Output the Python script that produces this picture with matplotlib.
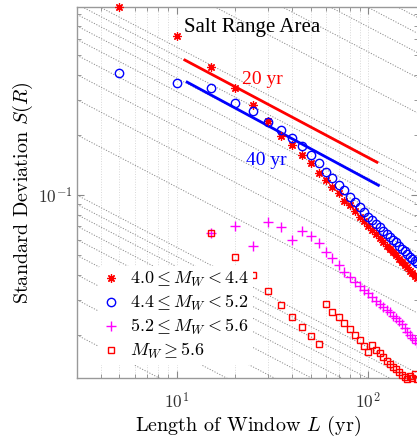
import numpy as np
import matplotlib
matplotlib.use("Agg")
import matplotlib.pyplot as plt
from matplotlib.ticker import FixedLocator, FixedFormatter, LogLocator, NullFormatter

plt.rcParams['mathtext.fontset'] = 'cm'
plt.rcParams['axes.formatter.use_mathtext'] = True

# ---- data ----
L_a = [5, 10, 15, 20, 25, 30, 35, 40, 45, 50, 55, 60, 65, 70, 75, 80, 85, 90,
       95, 100, 105, 110, 115, 120, 125, 130, 135, 140, 145, 150, 155, 160, 165, 170, 175, 180]
S_m40 = [0.87, 0.624, 0.437, 0.343, 0.282, 0.234, 0.197, 0.178, 0.158, 0.145, 0.129, 0.119,
         0.110, 0.102, 0.094, 0.089, 0.083, 0.078, 0.074, 0.070, 0.067, 0.064, 0.061, 0.058,
         0.056, 0.054, 0.052, 0.050, 0.048, 0.0465, 0.045, 0.0435, 0.042, 0.041, 0.0395, 0.0385]
S_m44 = [0.407, 0.363, 0.343, 0.288, 0.263, 0.232, 0.211, 0.193, 0.175, 0.158, 0.145, 0.130,
         0.122, 0.112, 0.106, 0.098, 0.092, 0.087, 0.082, 0.078, 0.075, 0.072, 0.069, 0.066,
         0.064, 0.062, 0.060, 0.058, 0.056, 0.054, 0.0525, 0.051, 0.049, 0.048, 0.047, 0.0457]
L_b = [15, 20, 25, 30, 35, 40, 45, 50, 55, 60, 65, 70, 75, 80, 85, 90,
       95, 100, 105, 110, 115, 120, 125, 130, 135, 140, 145, 150, 155, 160, 165, 170, 175, 180]
S_m52 = [0.065, 0.070, 0.056, 0.073, 0.069, 0.060, 0.066, 0.0624, 0.0575, 0.052, 0.0484, 0.0447,
         0.0412, 0.0389, 0.037, 0.035, 0.0335, 0.0324, 0.031, 0.0295, 0.0285, 0.0275, 0.0268,
         0.026, 0.025, 0.0243, 0.0235, 0.0226, 0.0217, 0.0208, 0.0200, 0.0194, 0.0188, 0.0182]
S_m56 = [0.065, 0.049, 0.0398, 0.0331, 0.0282, 0.0245, 0.0219, 0.0197, 0.018, 0.0285, 0.026,
         0.0245, 0.0229, 0.0214, 0.020, 0.0188, 0.0176, 0.0164, 0.0178, 0.0169, 0.0162, 0.0155,
         0.0149, 0.0144, 0.0139, 0.0135, 0.0131, 0.0127, 0.0124, 0.0121, 0.0125, 0.0122, 0.0128, 0.0120]
L_20 = [11.0, 111.0]
S_20 = [0.473, 0.146]
L_40 = [11.3, 113.0]
S_40 = [0.367, 0.112]
ref_levels = [0.02, 0.03, 0.04, 0.05, 0.06, 0.07, 0.08, 0.09,
              0.1, 0.2, 0.3, 0.4, 0.5, 0.6, 0.7, 0.8, 0.9,
              1, 2, 3, 4, 5, 6, 7, 8, 9]
labels = [r'$4.0 \leq M_W < 4.4$', r'$4.4 \leq M_W < 5.2$',
          r'$5.2 \leq M_W < 5.6$', r'$M_W \geq 5.6$']

XMIN, XMAX = 3.0, 182.0
YMIN, YMAX = 0.0122, 0.871

fig = plt.figure(figsize=(4.17, 4.41), dpi=100)
ax = fig.add_axes([77/417, 63/441, 341/417, 371/441])
ax.set_xscale('log')
ax.set_yscale('log')
ax.set_xlim(XMIN, XMAX)
ax.set_ylim(YMIN, YMAX)

# reference dotted lines S ~ L^-1/2
Lr = np.array([XMIN, XMAX])
for c in ref_levels:
    ax.plot(Lr, c * (Lr / XMIN) ** -0.5, ls=(0, (1.2, 1.6)), color='#8c8c8c', lw=0.7, zorder=1)

# vertical grid
ax.xaxis.grid(True, which='both', ls=':', color='#d8d8d8', lw=0.7)
ax.set_axisbelow(True)

ax.plot(L_20, S_20, color='red', lw=2, zorder=3)
ax.plot(L_40, S_40, color='blue', lw=2, zorder=3)

ast = (8, 2, 0)
ax.plot(L_a, S_m40, ls='none', marker=ast, ms=6, mec='red', mew=0.9, color='red',
        label=labels[0], clip_on=False, zorder=4)
ax.plot(L_a, S_m44, ls='none', marker='o', ms=6, mfc='none', mec='blue', mew=1.0,
        label=labels[1], clip_on=False, zorder=4)
ax.plot(L_b, S_m52, ls='none', marker='+', ms=7, mec='magenta', mew=1.0,
        label=labels[2], clip_on=False, zorder=4)
ax.plot(L_b, S_m56, ls='none', marker='s', ms=5, mfc='none', mec='red', mew=1.0,
        label=labels[3], clip_on=False, zorder=4)

ax.text(0.313, 0.945, 'Salt Range Area', transform=ax.transAxes, fontsize=15,
        family='Liberation Serif', ha='left', va='center')
ax.text(0.485, 0.805, '20 yr', transform=ax.transAxes, fontsize=14, color='red',
        family='Liberation Serif', ha='left', va='center')
ax.text(0.495, 0.585, '40 yr', transform=ax.transAxes, fontsize=14, color='blue',
        family='Liberation Serif', ha='left', va='center')

ax.xaxis.set_major_locator(FixedLocator([10, 100]))
ax.xaxis.set_major_formatter(FixedFormatter([r'$10^{1}$', r'$10^{2}$']))
ax.xaxis.set_minor_locator(LogLocator(base=10, subs=np.arange(2, 10)))
ax.xaxis.set_minor_formatter(NullFormatter())
ax.yaxis.set_major_locator(FixedLocator([0.1]))
ax.yaxis.set_major_formatter(FixedFormatter([r'$10^{-1}$']))
ax.yaxis.set_minor_locator(LogLocator(base=10, subs=np.arange(2, 10)))
ax.yaxis.set_minor_formatter(NullFormatter())
ax.tick_params(which='both', direction='in', top=True, right=True, color='#888888',
               labelsize=12.5, labelcolor='#333333')
ax.tick_params(which='major', length=5, width=0.8)
ax.tick_params(axis='x', which='major', pad=10)
ax.tick_params(axis='y', which='major', pad=3)
ax.tick_params(which='minor', length=3, width=0.6)
for s in ax.spines.values():
    s.set_color('#999999')
    s.set_linewidth(1.0)

ax.set_xlabel(r'Length of Window $L$ (yr)', family='cmr10', fontsize=14.5)
ax.set_ylabel(r'Standard Deviation $S(R)$', family='cmr10', fontsize=14.5)
ax.xaxis.set_label_coords(0.501, -0.097)
ax.yaxis.set_label_coords(-0.124, 0.5)

leg = ax.legend(loc='upper left', bbox_to_anchor=(0.035, 0.325), frameon=True, fontsize=13,
                handlelength=1.0, handletextpad=0.6, labelspacing=0.22, borderpad=0.2,
                numpoints=1)
leg.get_frame().set_edgecolor('none')
leg.get_frame().set_facecolor('white')
leg.get_frame().set_alpha(1)

fig.savefig('out.png', dpi=100)
